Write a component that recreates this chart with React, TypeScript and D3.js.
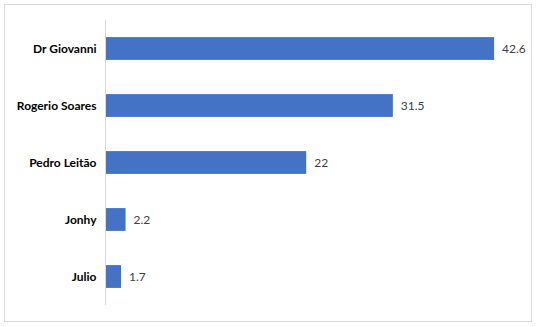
import React from "react";
import * as d3 from "d3";

const categories = ["Dr Giovanni", "Rogerio Soares", "Pedro Leitão", "Jonhy", "Julio"];
const values = [42.6, 31.5, 22, 2.2, 1.7];
const valueLabels = ["42.6", "31.5", "22", "2.2", "1.7"];

export default function App() {
  const W = 538, H = 327;
  const x = d3.scaleLinear().domain([0, 45]).range([105.5, 516]);
  const y = d3.scaleBand<string>().domain(categories).range([20, 305]).paddingInner(0.6).paddingOuter(0.3);
  const font = "Lato, 'Open Sans', sans-serif";
  return (
    <svg width={W} height={H} style={{ position: "absolute", left: 0, top: 0 }}>
      <rect x={0} y={0} width={W} height={H} fill="#fff" />
      <rect x={4.5} y={4.5} width={527} height={317} fill="#fff" stroke="#d9d9d9" strokeWidth={1} />
      {categories.map((c, i) => (
        <g key={c}>
          <rect x={x(0)} y={y(c)!} width={x(values[i]) - x(0)} height={y.bandwidth()} fill="#4472C4" />
          <text x={x(0) - 9} y={y(c)! + y.bandwidth() / 2} dy="0.35em" textAnchor="end"
            fontFamily={font} fontSize={12} fontWeight="bold" fill="#000">{c}</text>
          <text x={x(values[i]) + 8} y={y(c)! + y.bandwidth() / 2} dy="0.35em" textAnchor="start"
            fontFamily={font} fontSize={12} fill="#404040">{valueLabels[i]}</text>
        </g>
      ))}
      <line x1={x(0)} x2={x(0)} y1={20} y2={305} stroke="#d9d9d9" strokeWidth={1} />
    </svg>
  );
}
